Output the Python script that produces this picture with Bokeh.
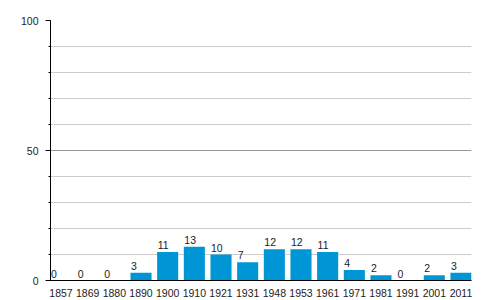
from bokeh.plotting import figure
from bokeh.models import ColumnDataSource, FixedTicker, SingleIntervalTicker, Range1d
from bokeh.embed import file_html
from bokeh.resources import INLINE
from bokeh.core.properties import value

years = ["1857", "1869", "1880", "1890", "1900", "1910", "1921", "1931",
         "1948", "1953", "1961", "1971", "1981", "1991", "2001", "2011"]
counts = [0, 0, 0, 3, 11, 13, 10, 7, 12, 12, 11, 4, 2, 0, 2, 3]

BAR_W = 0.79
idx = list(range(len(years)))
src = ColumnDataSource(dict(
    x=idx,
    xl=[i - BAR_W / 2 for i in idx],
    y=counts,
    lab=[str(c) for c in counts],
))

p = figure(width=500, height=300, output_backend="svg", toolbar_location=None,
           x_range=Range1d(-BAR_W / 2, len(years) - 1 + BAR_W / 2),
           y_range=Range1d(0, 100),
           min_border_left=50, min_border_right=29, min_border_top=20, min_border_bottom=20)
p.outline_line_color = None
p.background_fill_color = "white"
p.border_fill_color = "white"

p.vbar(x="x", top="y", width=BAR_W, bottom=0, source=src,
       fill_color="#0096d6", line_color=None)

p.text(x="xl", y="y", text="lab", source=src, text_align="left",
       text_baseline="bottom", y_offset=-3, x_offset=0.5,
       text_font=value("Liberation Sans"), text_font_size="10.5px", text_color="#222222")

# x axis
p.xaxis.ticker = FixedTicker(ticks=idx)
p.xaxis.major_label_overrides = {i: y for i, y in zip(idx, years)}
p.xaxis.major_tick_line_color = None
p.xaxis.minor_tick_line_color = None
p.xaxis.axis_line_color = "black"
p.xaxis.major_label_standoff = 2
p.xaxis.major_label_text_font = "Liberation Sans"
p.xaxis.major_label_text_font_size = "10.5px"
p.xaxis.major_label_text_color = "#222222"

# y axis
p.yaxis.ticker = SingleIntervalTicker(interval=50, num_minor_ticks=5)
p.yaxis.axis_line_color = "black"
p.yaxis.major_tick_line_color = "black"
p.yaxis.minor_tick_line_color = "black"
p.yaxis.major_tick_in = 0
p.yaxis.major_tick_out = 5
p.yaxis.minor_tick_in = 0
p.yaxis.minor_tick_out = 2
p.yaxis.major_label_standoff = 7
p.yaxis.major_label_text_font = "Liberation Sans"
p.yaxis.major_label_text_font_size = "10.5px"
p.yaxis.major_label_text_color = "#222222"

p.xgrid.grid_line_color = None
p.ygrid.grid_line_color = "#999999"
p.ygrid.minor_grid_line_color = "#cccccc"

open("out.html", "w").write(file_html(p, INLINE))
